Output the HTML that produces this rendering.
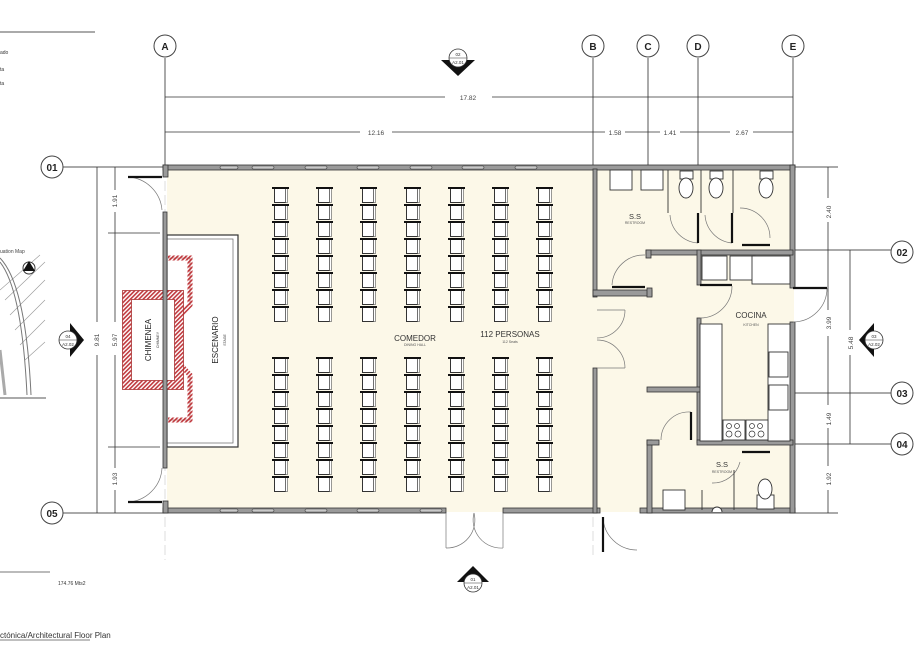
<!DOCTYPE html>
<html><head><meta charset="utf-8">
<style>
html,body{margin:0;padding:0;background:#fff;}
svg{display:block;font-family:"Liberation Sans",sans-serif;}
</style></head><body>
<svg width="915" height="669" viewBox="0 0 915 669" xmlns="http://www.w3.org/2000/svg">
<defs>
<pattern id="chair" x="0" y="0" width="17" height="17" patternUnits="userSpaceOnUse">
<rect x="2.5" y="1.5" width="11" height="14" fill="#fff" stroke="#333" stroke-width="1"/>
<rect x="13.5" y="1.5" width="2" height="14" fill="#fff" stroke="#555" stroke-width="0.6"/>
<rect x="0" y="0" width="17" height="2" fill="#111"/>
</pattern>
<pattern id="hatch" width="3" height="3" patternUnits="userSpaceOnUse" patternTransform="rotate(45)">
<rect width="3" height="3" fill="#fff"/><rect width="1.6" height="3" fill="#c0393e"/>
</pattern>
</defs>

<line x1="0" y1="32" x2="95" y2="32" stroke="#555" stroke-width="1"/>
<text x="0" y="54" font-size="5" fill="#333">ado</text>
<text x="0" y="71" font-size="5" fill="#333">ta</text>
<text x="0" y="85" font-size="5" fill="#333">ta</text>

<text x="0" y="253" font-size="5" fill="#444">uation Map</text>
<g stroke="#999" stroke-width="0.6" fill="none">
<line x1="0" y1="290" x2="40" y2="255"/><line x1="5" y1="300" x2="45" y2="262"/><line x1="10" y1="315" x2="45" y2="280"/>
<line x1="15" y1="330" x2="45" y2="300"/><line x1="20" y1="345" x2="45" y2="320"/><line x1="25" y1="360" x2="45" y2="342"/>
<path d="M0 262 Q22 290 27 395" stroke="#777" stroke-width="1"/><path d="M0 258 Q26 285 31 395" stroke="#777" stroke-width="1"/>
<path d="M0 350 L5 395" stroke="#aaa" stroke-width="3"/>
</g>
<line x1="0" y1="398" x2="46" y2="398" stroke="#555"/>
<circle cx="29" cy="268" r="6" fill="#fff" stroke="#333"/><polygon points="29,261 23,271 35,271" fill="#111"/>

<line x1="0" y1="572" x2="50" y2="572" stroke="#777"/>
<text x="58" y="585" font-size="5" fill="#333">174.76 Mts2</text>
<text x="0" y="638" font-size="8" fill="#333">ctónica/Architectural Floor Plan</text>
<line x1="0" y1="640" x2="90" y2="640" stroke="#555" stroke-width="0.8"/>

<g stroke="#555" stroke-width="1">
<line x1="165" y1="58" x2="165" y2="165"/><line x1="593" y1="58" x2="593" y2="165"/>
<line x1="648" y1="58" x2="648" y2="165"/><line x1="698" y1="58" x2="698" y2="165"/>
<line x1="793" y1="58" x2="793" y2="165"/>
<line x1="63" y1="167" x2="165" y2="167"/><line x1="63" y1="513" x2="165" y2="513"/>
<line x1="795" y1="250" x2="891" y2="250"/><line x1="795" y1="393" x2="891" y2="393"/><line x1="795" y1="444" x2="891" y2="444"/>
<line x1="795" y1="167" x2="838" y2="167"/><line x1="795" y1="513" x2="838" y2="513"/>
</g>
<g stroke="#ddd" stroke-width="1" stroke-dasharray="10,4">
<line x1="165" y1="167" x2="165" y2="560"/><line x1="593" y1="167" x2="593" y2="555"/>
<line x1="648" y1="167" x2="648" y2="515"/><line x1="698" y1="167" x2="698" y2="515"/>
<line x1="165" y1="393" x2="795" y2="393"/>
</g>
<g fill="#fff" stroke="#444" stroke-width="1">
<circle cx="165" cy="46" r="11"/><circle cx="593" cy="46" r="11"/><circle cx="648" cy="46" r="11"/>
<circle cx="698" cy="46" r="11"/><circle cx="793" cy="46" r="11"/>
<circle cx="52" cy="167" r="11"/><circle cx="52" cy="513" r="11"/>
<circle cx="902" cy="252" r="11"/><circle cx="902" cy="393" r="11"/><circle cx="902" cy="444" r="11"/>
</g>
<g font-size="10" fill="#222" text-anchor="middle" font-weight="bold">
<text x="165" y="50">A</text><text x="593" y="50">B</text><text x="648" y="50">C</text><text x="698" y="50">D</text><text x="793" y="50">E</text>
<text x="52" y="171">01</text><text x="52" y="517">05</text>
<text x="902" y="256">02</text><text x="902" y="397">03</text><text x="902" y="448">04</text>
</g>

<g stroke="#333" stroke-width="0.8">
<line x1="165" y1="97" x2="445" y2="97"/><line x1="492" y1="97" x2="793" y2="97"/>
<line x1="165" y1="132" x2="360" y2="132"/><line x1="392" y1="132" x2="605" y2="132"/>
<line x1="625" y1="132" x2="660" y2="132"/><line x1="680" y1="132" x2="730" y2="132"/><line x1="753" y1="132" x2="793" y2="132"/>
</g>
<g font-size="6.5" fill="#444" text-anchor="middle">
<text x="468" y="100">17.82</text><text x="376" y="135">12.16</text><text x="615" y="135">1.58</text>
<text x="670" y="135">1.41</text><text x="742" y="135">2.67</text>
</g>

<g stroke="#333" stroke-width="0.8">
<line x1="97" y1="167" x2="97" y2="322"/><line x1="97" y1="355" x2="97" y2="513"/>
<line x1="115" y1="167" x2="115" y2="190"/><line x1="115" y1="212" x2="115" y2="322"/><line x1="115" y1="355" x2="115" y2="468"/><line x1="115" y1="490" x2="115" y2="513"/>
<line x1="108" y1="233" x2="160" y2="233"/><line x1="108" y1="447" x2="160" y2="447"/>
</g>
<g font-size="6.5" fill="#444" text-anchor="middle">
<text transform="translate(99,340) rotate(-90)">9.81</text>
<text transform="translate(117,201) rotate(-90)">1.91</text>
<text transform="translate(117,340) rotate(-90)">5.97</text>
<text transform="translate(117,479) rotate(-90)">1.93</text>
</g>

<g stroke="#333" stroke-width="0.8">
<line x1="828" y1="167" x2="828" y2="198"/><line x1="828" y1="222" x2="828" y2="310"/><line x1="828" y1="336" x2="828" y2="405"/>
<line x1="828" y1="428" x2="828" y2="466"/><line x1="828" y1="490" x2="828" y2="513"/>
<line x1="850" y1="250" x2="850" y2="330"/><line x1="850" y1="355" x2="850" y2="444"/>
</g>
<g font-size="6.5" fill="#444" text-anchor="middle">
<text transform="translate(831,212) rotate(-90)">2.40</text>
<text transform="translate(831,323) rotate(-90)">3.99</text>
<text transform="translate(831,419) rotate(-90)">1.49</text>
<text transform="translate(831,479) rotate(-90)">1.92</text>
<text transform="translate(853,343) rotate(-90)">5.48</text>
</g>

<g>
<polygon points="441,60 475,60 458,76" fill="#111"/>
<circle cx="458" cy="58" r="9" fill="#fff" stroke="#333" stroke-width="0.8"/>
<line x1="449" y1="58" x2="467" y2="58" stroke="#333" stroke-width="0.6"/>
<text x="458" y="56" font-size="4.5" text-anchor="middle" fill="#333">02</text>
<text x="458" y="64" font-size="4.5" text-anchor="middle" fill="#333">A2.01</text>

<polygon points="70,323 70,357 84,340" fill="#111"/>
<circle cx="68" cy="340" r="9" fill="#fff" stroke="#333" stroke-width="0.8"/>
<line x1="59" y1="340" x2="77" y2="340" stroke="#333" stroke-width="0.6"/>
<text x="68" y="338" font-size="4.5" text-anchor="middle" fill="#333">04</text>
<text x="68" y="346" font-size="4.5" text-anchor="middle" fill="#333">A2.02</text>

<polygon points="874,323 874,357 859,340" fill="#111"/>
<circle cx="874" cy="340" r="9" fill="#fff" stroke="#333" stroke-width="0.8"/>
<line x1="865" y1="340" x2="883" y2="340" stroke="#333" stroke-width="0.6"/>
<text x="874" y="338" font-size="4.5" text-anchor="middle" fill="#333">03</text>
<text x="874" y="346" font-size="4.5" text-anchor="middle" fill="#333">A2.02</text>

<polygon points="457,582 489,582 473,566" fill="#111"/>
<circle cx="473" cy="583" r="9" fill="#fff" stroke="#333" stroke-width="0.8"/>
<line x1="464" y1="583" x2="482" y2="583" stroke="#333" stroke-width="0.6"/>
<text x="473" y="581" font-size="4.5" text-anchor="middle" fill="#333">01</text>
<text x="473" y="589" font-size="4.5" text-anchor="middle" fill="#333">A2.01</text>
</g>

<rect x="167" y="169" width="627" height="343" fill="#fcf8e8"/>

<rect x="167" y="235" width="71" height="212" fill="#fff" stroke="#333" stroke-width="1.2"/>
<rect x="167" y="239" width="66" height="204" fill="none" stroke="#666" stroke-width="0.7"/>
<path d="M168 258 H190 V305 L178 318 H168 M168 362 H178 L190 375 V420 H168" fill="none" stroke="url(#hatch)" stroke-width="5"/>
<path d="M168 258 H190 V305 M190 375 V420 H168" fill="none" stroke="#a33" stroke-width="0.6"/>
<rect x="127" y="295" width="52" height="90" fill="#fff" stroke="url(#hatch)" stroke-width="9"/>
<rect x="122.5" y="290.5" width="61" height="99" fill="none" stroke="#a33" stroke-width="0.8"/>
<rect x="131.5" y="299.5" width="43" height="81" fill="none" stroke="#a33" stroke-width="0.8"/>
<text transform="translate(151,340) rotate(-90)" font-size="8" text-anchor="middle" fill="#222">CHIMENEA</text>
<text transform="translate(159,340) rotate(-90)" font-size="3.5" text-anchor="middle" fill="#444">CHIMNEY</text>
<text transform="translate(218,340) rotate(-90)" font-size="8" text-anchor="middle" fill="#222">ESCENARIO</text>
<text transform="translate(226,340) rotate(-90)" font-size="3.5" text-anchor="middle" fill="#444">STAGE</text>

<g>
<rect transform="translate(272,187)" width="17" height="136" fill="url(#chair)"/>
<rect transform="translate(316,187)" width="17" height="136" fill="url(#chair)"/>
<rect transform="translate(360,187)" width="17" height="136" fill="url(#chair)"/>
<rect transform="translate(404,187)" width="17" height="136" fill="url(#chair)"/>
<rect transform="translate(448,187)" width="17" height="136" fill="url(#chair)"/>
<rect transform="translate(492,187)" width="17" height="136" fill="url(#chair)"/>
<rect transform="translate(536,187)" width="17" height="136" fill="url(#chair)"/>
<rect transform="translate(272,357)" width="17" height="136" fill="url(#chair)"/>
<rect transform="translate(316,357)" width="17" height="136" fill="url(#chair)"/>
<rect transform="translate(360,357)" width="17" height="136" fill="url(#chair)"/>
<rect transform="translate(404,357)" width="17" height="136" fill="url(#chair)"/>
<rect transform="translate(448,357)" width="17" height="136" fill="url(#chair)"/>
<rect transform="translate(492,357)" width="17" height="136" fill="url(#chair)"/>
<rect transform="translate(536,357)" width="17" height="136" fill="url(#chair)"/>
</g>
<text x="415" y="341" font-size="8" text-anchor="middle" fill="#333">COMEDOR</text>
<text x="415" y="346" font-size="3.5" text-anchor="middle" fill="#555">DINING HALL</text>
<text x="510" y="337" font-size="8" text-anchor="middle" fill="#333">112 PERSONAS</text>
<text x="510" y="343" font-size="3.5" text-anchor="middle" fill="#555">112 Seats</text>

<g fill="#9a9a9a" stroke="#333" stroke-width="0.8">
<rect x="163" y="165" width="632" height="5"/>
<rect x="163" y="508" width="283" height="5"/>
<rect x="503" y="508" width="97" height="5"/>
<rect x="640" y="508" width="155" height="5"/>
<rect x="790" y="165" width="5" height="123"/>
<rect x="790" y="322" width="5" height="191"/>
<rect x="163" y="165" width="5" height="12"/>
<rect x="163" y="212" width="4" height="256"/>
<rect x="163" y="501" width="5" height="12"/>
<rect x="593" y="169" width="4" height="128"/>
<rect x="593" y="290" width="59" height="6"/>
<rect x="647" y="288" width="5" height="9"/>
<rect x="646" y="250" width="147" height="5"/>
<rect x="646" y="250" width="5" height="8"/>
<rect x="697" y="250" width="4" height="35"/>
<rect x="697" y="318" width="4" height="125"/>
<rect x="647" y="387" width="54" height="5"/>
<rect x="697" y="440" width="96" height="5"/>
<rect x="647" y="440" width="5" height="73"/>
<rect x="647" y="440" width="12" height="5"/>
<rect x="593" y="368" width="4" height="145"/>
</g>
<g fill="#c8c8c8" stroke="#444" stroke-width="0.6">
<rect x="220" y="166" width="18" height="3" rx="1.5"/><rect x="252" y="166" width="22" height="3" rx="1.5"/>
<rect x="305" y="166" width="22" height="3" rx="1.5"/><rect x="357" y="166" width="22" height="3" rx="1.5"/>
<rect x="410" y="166" width="22" height="3" rx="1.5"/><rect x="462" y="166" width="22" height="3" rx="1.5"/>
<rect x="515" y="166" width="22" height="3" rx="1.5"/><rect x="220" y="509" width="18" height="3" rx="1.5"/>
<rect x="252" y="509" width="22" height="3" rx="1.5"/><rect x="305" y="509" width="22" height="3" rx="1.5"/>
<rect x="357" y="509" width="22" height="3" rx="1.5"/><rect x="420" y="509" width="22" height="3" rx="1.5"/>
</g>

<g fill="none" stroke="#777" stroke-width="0.7">
<path d="M162 210 A36 36 0 0 0 128 177"/><path d="M162 468 A36 36 0 0 1 128 502"/>
<path d="M446 513 V548 M446 548 A28 28 0 0 0 474 513 M503 513 V548 M503 548 A28 28 0 0 1 474 513"/>
<path d="M597 310 H625 M597 368 H625 M625 310 A28 28 0 0 1 597 338 M625 368 A28 28 0 0 0 597 340"/>
<path d="M612 285 A32 32 0 0 1 645 255"/>
<path d="M700 318 A32 32 0 0 0 732 286"/>
<path d="M793 322 A34 34 0 0 0 827 288"/>
<path d="M603 517 A34 34 0 0 0 637 550"/>
<path d="M661 440 A28 28 0 0 1 691 412"/>
<path d="M740 208 A30 30 0 0 1 770 238"/>
<path d="M740 462 A28 28 0 0 1 712 483"/>
<path d="M670 215 A30 30 0 0 0 698 243"/><path d="M705 215 A30 30 0 0 0 732 243"/>
</g>
<g stroke="#111" stroke-width="2.2">
<line x1="128" y1="177" x2="162" y2="177"/><line x1="128" y1="502" x2="162" y2="502"/>
<line x1="612" y1="287" x2="645" y2="287"/><line x1="700" y1="285" x2="732" y2="285"/>
<line x1="793" y1="288" x2="827" y2="288"/><line x1="603" y1="517" x2="603" y2="552"/>
<line x1="691" y1="412" x2="691" y2="440"/><line x1="742" y1="245" x2="770" y2="245"/>
<line x1="742" y1="452" x2="770" y2="452"/>
<line x1="698" y1="213" x2="698" y2="243"/><line x1="732" y1="213" x2="732" y2="243"/>
</g>

<g fill="#fff" stroke="#333" stroke-width="0.9">
<rect x="610" y="170" width="22" height="20"/><rect x="641" y="170" width="22" height="20"/>
<rect x="680" y="171" width="13" height="8"/><ellipse cx="686" cy="188" rx="7" ry="10"/>
<rect x="710" y="171" width="13" height="8"/><ellipse cx="716" cy="188" rx="7" ry="10"/>
<rect x="760" y="171" width="13" height="8"/><ellipse cx="766" cy="188" rx="7" ry="10"/>
<rect x="702" y="256" width="25" height="24"/><rect x="730" y="256" width="25" height="24"/>
<rect x="752" y="256" width="38" height="28"/>
<rect x="700" y="324" width="22" height="117"/>
<rect x="768" y="324" width="22" height="117"/>
<rect x="769" y="352" width="19" height="25"/><rect x="769" y="385" width="19" height="25"/>
<rect x="723" y="420" width="22" height="20"/><rect x="746" y="420" width="22" height="20"/>
<rect x="663" y="490" width="22" height="20"/>
<rect x="757" y="495" width="17" height="14"/><ellipse cx="765" cy="489" rx="7" ry="10"/>
<path d="M712 512 A5 5 0 0 1 722 512"/>
</g>
<g fill="#fff" stroke="#333" stroke-width="0.7">
<circle cx="729" cy="426" r="2.5"/><circle cx="737" cy="426" r="2.5"/><circle cx="729" cy="434" r="3"/><circle cx="738" cy="434" r="3"/>
<circle cx="752" cy="426" r="2.5"/><circle cx="760" cy="426" r="2.5"/><circle cx="752" cy="434" r="3"/><circle cx="761" cy="434" r="3"/>
</g>
<g stroke="#333" stroke-width="0.9">
<line x1="668" y1="170" x2="668" y2="213"/><line x1="701" y1="170" x2="701" y2="213"/><line x1="733" y1="170" x2="733" y2="213"/>
<line x1="702" y1="490" x2="702" y2="510"/><line x1="734" y1="470" x2="734" y2="510"/>
</g>

<text x="635" y="219" font-size="7.5" text-anchor="middle" fill="#333">S.S</text>
<text x="635" y="224" font-size="3.5" text-anchor="middle" fill="#555">RESTROOM</text>
<text x="751" y="318" font-size="8" text-anchor="middle" fill="#333">COCINA</text>
<text x="751" y="326" font-size="3.5" text-anchor="middle" fill="#555">KITCHEN</text>
<text x="722" y="467" font-size="7.5" text-anchor="middle" fill="#333">S.S</text>
<text x="722" y="473" font-size="3.5" text-anchor="middle" fill="#555">RESTROOM</text>
</svg>
</body></html>
